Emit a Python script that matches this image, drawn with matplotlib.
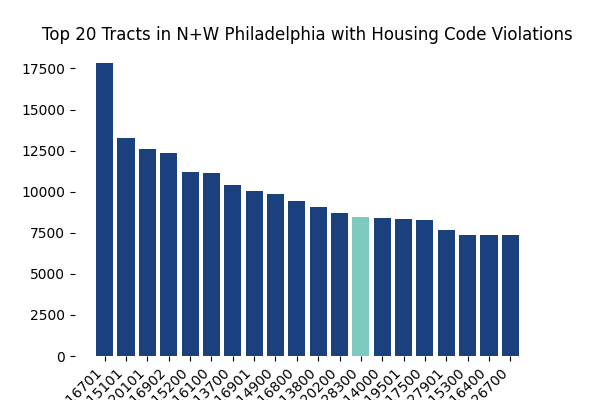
import matplotlib
matplotlib.use("Agg")
import matplotlib.pyplot as plt

tracts = ["016701", "015101", "020101", "016902", "015200", "016100", "013700",
          "016901", "014900", "016800", "013800", "020200", "028300", "014000",
          "019501", "017500", "027901", "015300", "016400", "026700"]
violations = [17850, 13290, 12620, 12380, 11220, 11160, 10430, 10060, 9880, 9450,
              9085, 8720, 8476, 8415, 8354, 8293, 7683, 7378, 7370, 7365]
highlight = "028300"

base_color = "#1a407e"
hl_color = "#7ccac0"
colors = [hl_color if t == highlight else base_color for t in tracts]

fig, ax = plt.subplots(figsize=(6, 4), dpi=100)
x = list(range(len(tracts)))
ax.bar(x, violations, color=colors, width=0.8)
ax.set_xticks(x)
ax.set_xticklabels(tracts, rotation=45, ha="right")
for s in ax.spines.values():
    s.set_visible(False)
ax.set_title("Top 20 Tracts in N+W Philadelphia with Housing Code Violations")
fig.savefig("out.png", dpi=100)
